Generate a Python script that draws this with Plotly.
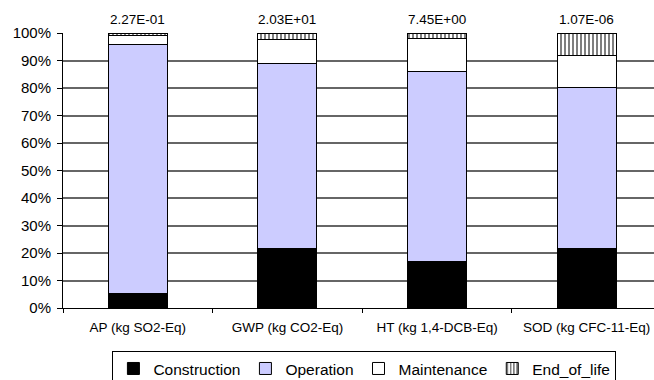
import plotly.graph_objects as go

# Impact categories and stacked percentage shares per life-cycle phase
categories = ["AP (kg SO2-Eq)", "GWP (kg CO2-Eq)", "HT (kg 1,4-DCB-Eq)", "SOD (kg CFC-11-Eq)"]
totals = ["2.27E-01", "2.03E+01", "7.45E+00", "1.07E-06"]
construction = [5.3, 21.6, 17.0, 21.5]
operation = [90.4, 67.4, 69.0, 58.8]
maintenance = [3.5, 8.6, 12.0, 11.5]
end_of_life = [0.8, 2.4, 2.0, 8.2]

FONT = "Liberation Sans, Arial, sans-serif"
line = dict(color="black", width=1)

fig = go.Figure()
fig.add_trace(go.Bar(name="Construction", x=categories, y=construction,
                     marker=dict(color="black", line=line)))
fig.add_trace(go.Bar(name="Operation", x=categories, y=operation,
                     marker=dict(color="#CCCCFF", line=line)))
fig.add_trace(go.Bar(name="Maintenance", x=categories, y=maintenance,
                     marker=dict(color="white", line=line)))
fig.add_trace(go.Bar(name="End_of_life", x=categories, y=end_of_life,
                     marker=dict(color="white", line=line,
                                 pattern=dict(shape="|", fgcolor="black", bgcolor="white",
                                              size=4, solidity=0.5))))

# Absolute totals above each stacked column
for cat, txt in zip(categories, totals):
    fig.add_annotation(x=cat, y=100, text=txt, showarrow=False, yanchor="bottom",
                       yshift=4, font=dict(family=FONT, size=13.5, color="black"))

fig.update_layout(
    barmode="stack",
    bargap=0.605,
    width=654, height=380,
    margin=dict(l=63, r=0, t=33, b=72, autoexpand=False),
    paper_bgcolor="white", plot_bgcolor="white",
    font=dict(family=FONT, color="black"),
    legend=dict(orientation="h", x=0.51, xanchor="center", y=-0.156, yanchor="top",
                bordercolor="black", borderwidth=1, bgcolor="white",
                font=dict(size=15.5, family=FONT), traceorder="normal",
                itemwidth=30),
    showlegend=True,
    xaxis=dict(type="category", range=[-0.5, 3.45], tickson="boundaries",
               ticks="outside", ticklen=4, tickcolor="black",
               showline=True, linecolor="black", linewidth=1,
               ticklabelstandoff=7,
               tickfont=dict(size=13.5, family=FONT), showgrid=False),
    yaxis=dict(range=[0, 100], dtick=10, ticksuffix="%", ticks="outside", ticklen=5,
               tickcolor="black", showline=True, linecolor="black", linewidth=1,
               showgrid=True, gridcolor="#666666", gridwidth=1.5,
               ticklabelstandoff=3,
               zeroline=False, tickfont=dict(size=15, family=FONT)),
)

fig.write_html("out.html")
